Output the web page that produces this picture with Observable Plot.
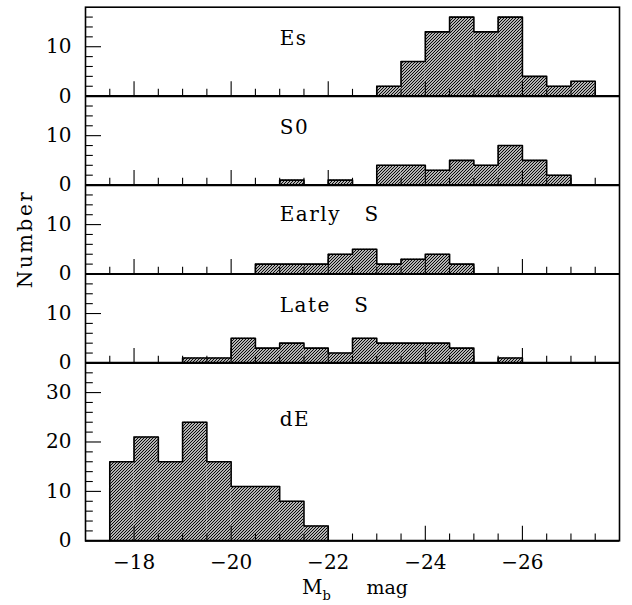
<!DOCTYPE html>
<html><head><meta charset="utf-8">
<script src="https://cdn.jsdelivr.net/npm/d3@7"></script>
<script src="https://cdn.jsdelivr.net/npm/@observablehq/plot@0.6"></script>
<style>
html,body{margin:0;padding:0;background:#fff;}
#chart{position:relative;width:632px;height:605px;}
</style></head><body><div id="chart"></div>
<script>
// Bin edges (M_b mag), 0.5 mag bins
const binEdges = [-17.5,-18,-18.5,-19,-19.5,-20,-20.5,-21,-21.5,-22,-22.5,-23,-23.5,-24,-24.5,-25,-25.5,-26,-26.5,-27,-27.5];
const panelNames = ["Es","S0","Early\u00a0\u00a0\u00a0S","Late\u00a0\u00a0\u00a0S","dE"];
const esCounts     = [0,0,0,0,0,0,0,0,0,0,0,2,7,13,16,13,16,4,2,3];
const s0Counts     = [0,0,0,0,0,0,0,1,0,1,0,4,4,3,5,4,8,5,2,0];
const earlySCounts = [0,0,0,0,0,0,2,2,2,4,5,2,3,4,2,0,0,0,0,0];
const lateSCounts  = [0,0,0,1,1,5,3,4,3,2,5,4,4,4,3,0,1,0,0,0];
const dECounts     = [16,21,16,24,16,11,11,8,3,0,0,0,0,0,0,0,0,0,0,0];
const panelMax = [18,18,18,18,36];
const panelLabelY = [10.3,10.4,10.8,10.4,23.3];
const panelLabelX = -21;
const smallYTickLabels = [0,10];
const dEYTickLabels = [0,10,20,30];
const xMajorTicks = [-18,-20,-22,-24,-26];
const xTickLabels = ["\u221218","\u221220","\u221222","\u221224","\u221226"];
const xMinorTicks = [-17.5,-18.5,-19,-19.5,-20.5,-21,-21.5,-22.5,-23,-23.5,-24.5,-25,-25.5,-26.5,-27,-27.5];
const xDomain = [-17,-28];

const panelCounts = [esCounts, s0Counts, earlySCounts, lateSCounts, dECounts];

// stacked offsets (bottom panel at 0)
const offsets = new Array(panelMax.length);
let acc = 0;
for (let p = panelMax.length - 1; p >= 0; p--) { offsets[p] = acc; acc += panelMax[p]; }
const total = acc;

const bars = [], outline = [];
panelCounts.forEach((counts, p) => {
  const off = offsets[p];
  counts.forEach((c, i) => { if (c > 0) bars.push({x1: binEdges[i], x2: binEdges[i+1], y1: off, y2: off + c}); });
  const nz = counts.map((c,i)=> c>0 ? i : -1).filter(i=>i>=0);
  const first = nz[0], last = nz[nz.length-1];
  outline.push({panel: p, x: binEdges[first], y: off});
  for (let i = first; i <= last; i++) {
    outline.push({panel: p, x: binEdges[i], y: off + counts[i]});
    outline.push({panel: p, x: binEdges[i+1], y: off + counts[i]});
  }
  outline.push({panel: p, x: binEdges[last+1], y: off});
});

const xTickMajorData = [], xTickMinorData = [];
offsets.forEach(off => {
  xMajorTicks.forEach(x => xTickMajorData.push({x, y: off}));
  xMinorTicks.forEach(x => xTickMinorData.push({x, y: off}));
});
const yTickMajorData = [], yTickMinorData = [], yLabelData = [];
panelMax.forEach((mx, p) => {
  const off = offsets[p];
  for (let v = 2; v < mx; v += 2) {
    if (v % 10 === 0) yTickMajorData.push({y: off + v});
    else yTickMinorData.push({y: off + v});
  }
  const labs = mx > 18 ? dEYTickLabels : smallYTickLabels;
  labs.forEach(v => yLabelData.push({y: off + v, text: String(v)}));
});
const panelLabelData = panelNames.map((name, p) => ({x: panelLabelX, y: offsets[p] + panelLabelY[p], name}));
const separators = offsets.filter(o => o > 0);

const tickSym = (dx, dy) => ({draw(ctx) { ctx.moveTo(0, 0); ctx.lineTo(dx, dy); }});

const plot = Plot.plot({
  width: 632, height: 605,
  marginLeft: 85, marginRight: 13, marginTop: 6.7, marginBottom: 64.7,
  x: {domain: xDomain, axis: null},
  y: {domain: [0, total], axis: null},
  style: {fontFamily: "'DejaVu Serif', serif", fontSize: "20px", color: "black", background: "white", overflow: "visible"},
  marks: [
    Plot.rect(bars, {x1: "x1", x2: "x2", y1: "y1", y2: "y2", fill: "url(#hatch)"}),
    Plot.line(outline, {x: "x", y: "y", z: "panel", stroke: "black", strokeWidth: 1.6, curve: "linear"}),
    Plot.dot(xTickMajorData, {x: "x", y: "y", symbol: tickSym(0, -15), fill: "none", stroke: "black", strokeWidth: 1.1}),
    Plot.dot(xTickMinorData, {x: "x", y: "y", symbol: tickSym(0, -7.3), fill: "none", stroke: "black", strokeWidth: 1.1}),
    Plot.dot(yTickMajorData, {x: () => xDomain[0], y: "y", symbol: tickSym(15.5, 0), fill: "none", stroke: "black", strokeWidth: 1.1}),
    Plot.dot(yTickMinorData, {x: () => xDomain[0], y: "y", symbol: tickSym(7.3, 0), fill: "none", stroke: "black", strokeWidth: 1.1}),
    Plot.ruleY(separators, {stroke: "black", strokeWidth: 2.2}),
    Plot.ruleY([0], {stroke: "black", strokeWidth: 2}),
    Plot.frame({stroke: "black", strokeWidth: 1.6}),
    Plot.text(yLabelData, {y: "y", text: "text", frameAnchor: "left", dx: -14, textAnchor: "end", lineAnchor: "middle"}),
    Plot.text(xMajorTicks, {x: d => d, text: (d, i) => xTickLabels[i], frameAnchor: "bottom", dy: 28, lineAnchor: "bottom"}),
    Plot.text(panelLabelData, {x: "x", y: "y", text: "name", textAnchor: "start", lineAnchor: "bottom"})
  ]
});

const svg = d3.select(plot);
svg.insert("defs", ":first-child").html(
  '<pattern id="hatch" patternUnits="userSpaceOnUse" width="3" height="3">' +
  '<rect width="3" height="3" fill="white"/>' +
  '<path d="M-1,1 L1,-1 M0,3 L3,0 M2,4 L4,2" stroke="black" stroke-width="1.15"/></pattern>');

svg.selectAll("text").filter(function() { return panelNames.includes(this.textContent); })
  .attr("letter-spacing", "1.5px");

// axis titles
const xt = svg.append("text").attr("x", 302).attr("y", 594).attr("text-anchor", "start")
  .attr("font-family", "'DejaVu Serif', serif").attr("font-size", 20).attr("fill", "black");
xt.append("tspan").text("M");
xt.append("tspan").attr("font-size", 13).attr("dy", 6).text("b");
xt.append("tspan").attr("x", 366.5).attr("dy", -6).attr("font-size", 19).text("mag");

svg.append("text").attr("transform", "translate(32,239) rotate(-90)")
  .attr("text-anchor", "middle").attr("letter-spacing", "2.5px")
  .attr("font-family", "'DejaVu Serif', serif").attr("font-size", 20).attr("fill", "black")
  .text("Number");

document.getElementById("chart").appendChild(plot);
</script></body></html>
